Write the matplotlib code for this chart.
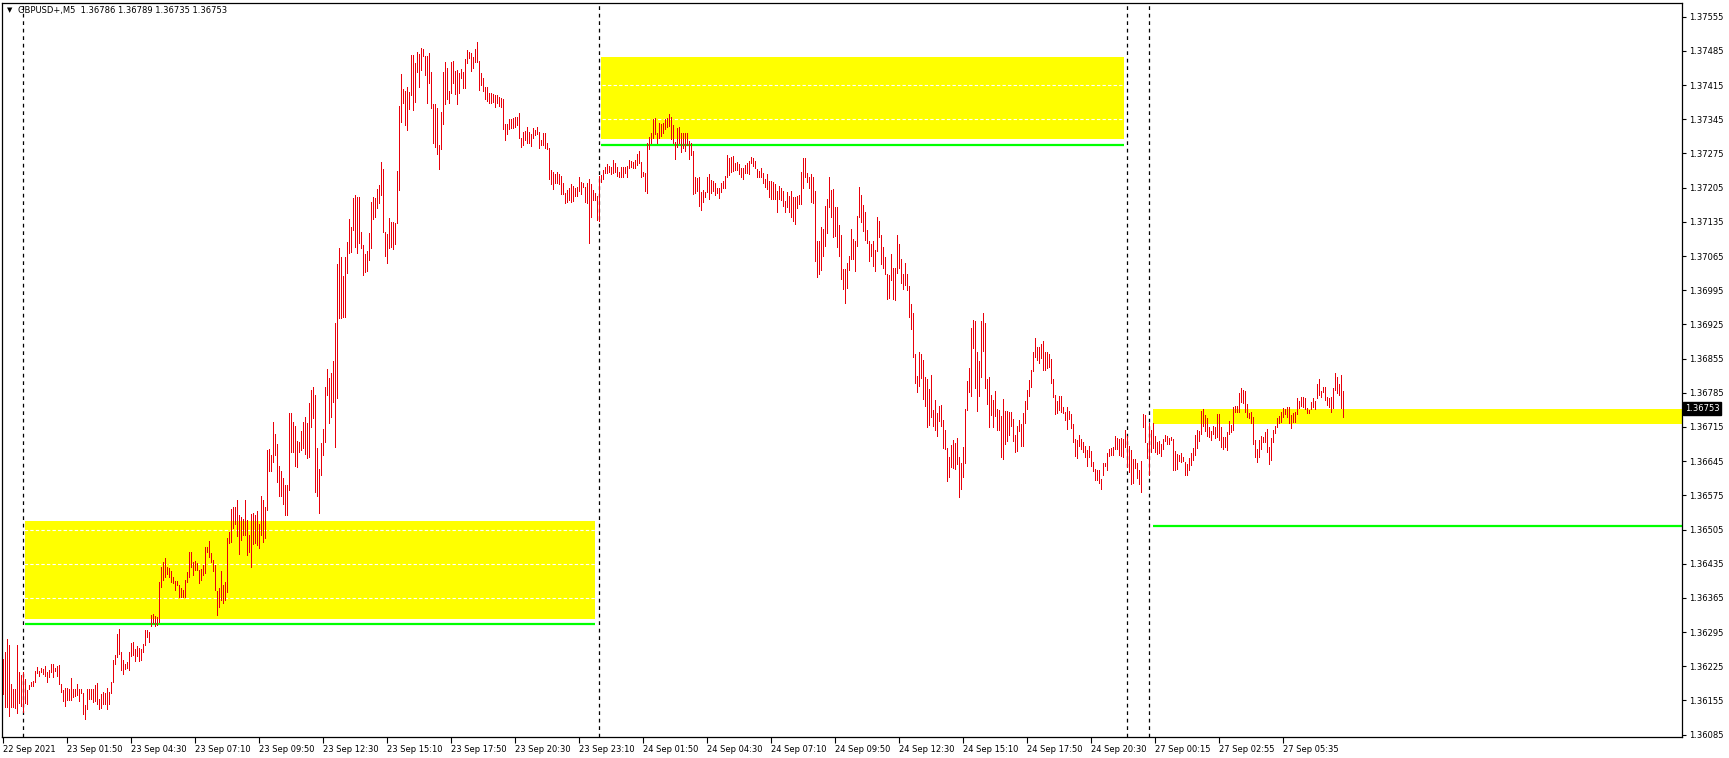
import matplotlib
matplotlib.use("Agg")
import matplotlib.pyplot as plt
import matplotlib.transforms as mtransforms
from matplotlib.patches import Rectangle

# ---------------- data (GBPUSD+, M5 bars, bar index 0 = 22 Sep 23:10) ----------------
HIGH = [
1.36240,1.36254,1.36281,1.36268,1.36189,1.36178,1.36178,1.36268,1.36213,1.36207,
1.36213,1.36199,1.36176,1.36186,1.36193,1.36195,1.36215,1.36223,1.36215,1.36221,
1.36219,1.36225,1.36213,1.36217,1.36229,1.36229,1.36221,1.36225,1.36227,1.36189,
1.36176,1.36180,1.36180,1.36178,1.36201,1.36178,1.36178,1.36189,1.36178,1.36178,
1.36170,1.36146,1.36178,1.36178,1.36178,1.36178,1.36186,1.36191,1.36158,1.36168,
1.36172,1.36170,1.36180,1.36172,1.36193,1.36238,1.36248,1.36291,1.36301,1.36254,
1.36238,1.36229,1.36234,1.36254,1.36272,1.36275,1.36260,1.36266,1.36262,1.36260,
1.36270,1.36299,1.36299,1.36295,1.36330,1.36332,1.36328,1.36326,1.36397,1.36428,
1.36438,1.36446,1.36428,1.36426,1.36420,1.36408,1.36399,1.36399,1.36391,1.36385,
1.36381,1.36401,1.36418,1.36459,1.36459,1.36438,1.36440,1.36436,1.36422,1.36424,
1.36432,1.36469,1.36469,1.36481,1.36457,1.36442,1.36432,1.36379,1.36385,1.36420,
1.36391,1.36397,1.36487,1.36500,1.36547,1.36551,1.36551,1.36565,1.36535,1.36530,
1.36526,1.36565,1.36524,1.36494,1.36537,1.36539,1.36535,1.36543,1.36516,1.36573,
1.36565,1.36551,1.36668,1.36670,1.36657,1.36725,1.36700,1.36680,1.36635,1.36625,
1.36610,1.36596,1.36596,1.36743,1.36743,1.36725,1.36717,1.36686,1.36684,1.36707,
1.36725,1.36735,1.36723,1.36764,1.36790,1.36797,1.36780,1.36672,1.36629,1.36682,
1.36711,1.36797,1.36833,1.36815,1.36825,1.36850,1.36928,1.37048,1.37081,1.37063,
1.37024,1.37063,1.37094,1.37141,1.37124,1.37184,1.37190,1.37186,1.37186,1.37114,
1.37087,1.37069,1.37075,1.37112,1.37175,1.37186,1.37184,1.37202,1.37210,1.37257,
1.37243,1.37114,1.37110,1.37143,1.37134,1.37134,1.37132,1.37239,1.37372,1.37437,
1.37407,1.37403,1.37411,1.37401,1.37476,1.37476,1.37460,1.37483,1.37478,1.37491,
1.37489,1.37474,1.37474,1.37480,1.37442,1.37376,1.37376,1.37368,1.37292,1.37360,
1.37442,1.37462,1.37450,1.37403,1.37462,1.37464,1.37444,1.37446,1.37440,1.37448,
1.37442,1.37468,1.37487,1.37483,1.37480,1.37472,1.37489,1.37503,1.37464,1.37440,
1.37429,1.37411,1.37411,1.37399,1.37399,1.37397,1.37394,1.37394,1.37390,1.37388,
1.37386,1.37335,1.37335,1.37345,1.37345,1.37347,1.37349,1.37349,1.37358,1.37306,
1.37319,1.37321,1.37329,1.37319,1.37315,1.37327,1.37323,1.37329,1.37319,1.37302,
1.37317,1.37317,1.37296,1.37286,1.37241,1.37237,1.37233,1.37237,1.37233,1.37229,
1.37214,1.37194,1.37200,1.37204,1.37212,1.37208,1.37204,1.37206,1.37227,1.37216,
1.37214,1.37206,1.37214,1.37222,1.37212,1.37200,1.37194,1.37188,1.37229,1.37231,
1.37241,1.37247,1.37253,1.37249,1.37247,1.37261,1.37255,1.37247,1.37237,1.37247,
1.37247,1.37247,1.37249,1.37261,1.37259,1.37257,1.37261,1.37274,1.37280,1.37257,
1.37237,1.37235,1.37296,1.37308,1.37317,1.37345,1.37347,1.37317,1.37337,1.37335,
1.37337,1.37345,1.37347,1.37356,1.37349,1.37333,1.37298,1.37327,1.37329,1.37317,
1.37317,1.37317,1.37317,1.37300,1.37296,1.37280,1.37227,1.37225,1.37227,1.37196,
1.37200,1.37196,1.37227,1.37233,1.37220,1.37218,1.37214,1.37204,1.37204,1.37214,
1.37218,1.37229,1.37272,1.37265,1.37268,1.37270,1.37255,1.37257,1.37253,1.37245,
1.37245,1.37251,1.37255,1.37259,1.37268,1.37265,1.37259,1.37243,1.37239,1.37245,
1.37235,1.37222,1.37233,1.37218,1.37218,1.37216,1.37212,1.37198,1.37208,1.37204,
1.37198,1.37177,1.37196,1.37188,1.37198,1.37186,1.37186,1.37188,1.37190,1.37237,
1.37265,1.37265,1.37235,1.37227,1.37233,1.37227,1.37198,1.37096,1.37096,1.37124,
1.37120,1.37167,1.37182,1.37227,1.37200,1.37202,1.37165,1.37165,1.37128,1.37108,
1.37038,1.37038,1.37051,1.37065,1.37120,1.37100,1.37096,1.37147,1.37206,1.37190,
1.37169,1.37155,1.37118,1.37096,1.37089,1.37096,1.37077,1.37145,1.37137,1.37108,
1.37083,1.37063,1.37028,1.37026,1.37069,1.37040,1.37040,1.37108,1.37089,1.37059,
1.37028,1.37051,1.37028,1.37003,1.36967,1.36948,1.36864,1.36819,1.36868,1.36864,
1.36852,1.36817,1.36813,1.36793,1.36821,1.36750,1.36770,1.36743,1.36758,1.36760,
1.36729,1.36709,1.36672,1.36653,1.36678,1.36688,1.36682,1.36692,1.36653,1.36641,
1.36674,1.36752,1.36809,1.36836,1.36917,1.36934,1.36932,1.36868,1.36850,1.36932,
1.36948,1.36928,1.36813,1.36817,1.36780,1.36770,1.36788,1.36752,1.36750,1.36737,
1.36772,1.36747,1.36747,1.36745,1.36745,1.36731,1.36698,1.36717,1.36729,1.36721,
1.36743,1.36768,1.36790,1.36811,1.36831,1.36868,1.36897,1.36879,1.36879,1.36885,
1.36891,1.36868,1.36868,1.36864,1.36854,1.36813,1.36780,1.36768,1.36778,1.36778,
1.36756,1.36745,1.36756,1.36747,1.36741,1.36721,1.36690,1.36688,1.36698,1.36690,
1.36684,1.36676,1.36668,1.36676,1.36666,1.36643,1.36629,1.36627,1.36627,1.36608,
1.36641,1.36641,1.36661,1.36670,1.36672,1.36674,1.36696,1.36692,1.36690,1.36692,
1.36690,1.36709,1.36696,1.36676,1.36668,1.36649,1.36649,1.36641,1.36627,1.36645,
1.36741,1.36739,1.36682,1.36723,1.36709,1.36723,1.36696,1.36684,1.36686,1.36680,
1.36690,1.36698,1.36696,1.36692,1.36694,1.36690,1.36666,1.36659,1.36657,1.36661,
1.36653,1.36643,1.36639,1.36651,1.36661,1.36672,1.36698,1.36709,1.36707,1.36747,
1.36752,1.36739,1.36733,1.36715,1.36707,1.36717,1.36715,1.36741,1.36741,1.36715,
1.36694,1.36694,1.36704,1.36727,1.36719,1.36756,1.36758,1.36758,1.36784,1.36795,
1.36790,1.36788,1.36762,1.36743,1.36745,1.36735,1.36688,1.36670,1.36688,1.36696,
1.36694,1.36704,1.36711,1.36674,1.36692,1.36709,1.36717,1.36733,1.36737,1.36745,
1.36754,1.36752,1.36756,1.36756,1.36739,1.36743,1.36745,1.36774,1.36768,1.36776,
1.36776,1.36774,1.36754,1.36750,1.36766,1.36774,1.36768,1.36803,1.36813,1.36788,
1.36797,1.36797,1.36776,1.36774,1.36776,1.36795,1.36825,1.36817,1.36803,1.36821,
1.36789,
]

LOW = [
1.36168,1.36141,1.36141,1.36123,1.36141,1.36141,1.36139,1.36129,1.36150,1.36143,
1.36131,1.36150,1.36148,1.36178,1.36184,1.36184,1.36193,1.36211,1.36205,1.36213,
1.36209,1.36205,1.36193,1.36203,1.36213,1.36203,1.36215,1.36205,1.36189,1.36172,
1.36154,1.36143,1.36156,1.36156,1.36156,1.36162,1.36164,1.36166,1.36154,1.36170,
1.36127,1.36117,1.36137,1.36158,1.36158,1.36152,1.36154,1.36148,1.36137,1.36139,
1.36148,1.36148,1.36137,1.36148,1.36170,1.36193,1.36229,1.36244,1.36250,1.36217,
1.36209,1.36219,1.36221,1.36217,1.36246,1.36248,1.36236,1.36246,1.36236,1.36238,
1.36254,1.36268,1.36285,1.36275,1.36307,1.36313,1.36307,1.36309,1.36315,1.36387,
1.36401,1.36408,1.36414,1.36408,1.36397,1.36395,1.36381,1.36391,1.36367,1.36367,
1.36367,1.36367,1.36397,1.36408,1.36428,1.36412,1.36422,1.36422,1.36395,1.36401,
1.36412,1.36416,1.36459,1.36449,1.36438,1.36420,1.36381,1.36330,1.36346,1.36360,
1.36354,1.36360,1.36377,1.36477,1.36479,1.36508,1.36516,1.36492,1.36455,1.36483,
1.36494,1.36494,1.36453,1.36459,1.36428,1.36475,1.36477,1.36473,1.36467,1.36494,
1.36479,1.36487,1.36545,1.36625,1.36625,1.36643,1.36657,1.36602,1.36573,1.36573,
1.36557,1.36535,1.36535,1.36586,1.36664,1.36664,1.36635,1.36633,1.36664,1.36668,
1.36672,1.36659,1.36651,1.36653,1.36715,1.36733,1.36582,1.36573,1.36539,1.36616,
1.36657,1.36684,1.36780,1.36723,1.36735,1.36766,1.36674,1.36774,1.36938,1.36938,
1.36940,1.36940,1.37030,1.37071,1.37073,1.37118,1.37083,1.37071,1.37091,1.37081,
1.37026,1.37032,1.37034,1.37057,1.37081,1.37141,1.37145,1.37163,1.37173,1.37190,
1.37114,1.37065,1.37051,1.37081,1.37083,1.37079,1.37089,1.37132,1.37200,1.37339,
1.37378,1.37333,1.37323,1.37366,1.37394,1.37364,1.37380,1.37442,1.37411,1.37446,
1.37474,1.37435,1.37378,1.37419,1.37368,1.37296,1.37288,1.37274,1.37243,1.37284,
1.37335,1.37376,1.37386,1.37378,1.37399,1.37419,1.37397,1.37376,1.37399,1.37429,
1.37409,1.37409,1.37460,1.37470,1.37444,1.37450,1.37462,1.37462,1.37405,1.37415,
1.37403,1.37386,1.37382,1.37378,1.37378,1.37380,1.37370,1.37378,1.37372,1.37370,
1.37325,1.37302,1.37315,1.37325,1.37327,1.37327,1.37329,1.37333,1.37306,1.37288,
1.37292,1.37302,1.37296,1.37296,1.37290,1.37306,1.37313,1.37315,1.37286,1.37292,
1.37292,1.37286,1.37284,1.37222,1.37212,1.37202,1.37214,1.37214,1.37212,1.37192,
1.37192,1.37173,1.37175,1.37179,1.37175,1.37177,1.37188,1.37188,1.37198,1.37192,
1.37206,1.37175,1.37173,1.37091,1.37145,1.37179,1.37179,1.37139,1.37137,1.37216,
1.37222,1.37235,1.37235,1.37237,1.37233,1.37235,1.37237,1.37229,1.37227,1.37227,
1.37227,1.37235,1.37227,1.37245,1.37247,1.37245,1.37245,1.37251,1.37255,1.37227,
1.37229,1.37198,1.37194,1.37284,1.37296,1.37306,1.37315,1.37296,1.37306,1.37311,
1.37317,1.37325,1.37329,1.37331,1.37304,1.37296,1.37263,1.37288,1.37296,1.37278,
1.37286,1.37280,1.37292,1.37263,1.37272,1.37192,1.37194,1.37198,1.37167,1.37159,
1.37175,1.37186,1.37196,1.37182,1.37194,1.37198,1.37190,1.37194,1.37184,1.37196,
1.37204,1.37204,1.37227,1.37231,1.37237,1.37239,1.37241,1.37241,1.37233,1.37227,
1.37222,1.37235,1.37235,1.37233,1.37255,1.37249,1.37245,1.37227,1.37227,1.37227,
1.37214,1.37206,1.37202,1.37186,1.37182,1.37182,1.37182,1.37155,1.37182,1.37179,
1.37167,1.37155,1.37165,1.37155,1.37145,1.37137,1.37130,1.37163,1.37171,1.37171,
1.37204,1.37227,1.37216,1.37204,1.37175,1.37173,1.37055,1.37022,1.37028,1.37036,
1.37065,1.37085,1.37112,1.37165,1.37145,1.37104,1.37106,1.37083,1.37065,1.37018,
1.36997,1.36969,1.36999,1.37036,1.37059,1.37059,1.37034,1.37085,1.37145,1.37134,
1.37116,1.37098,1.37091,1.37055,1.37065,1.37044,1.37034,1.37075,1.37104,1.37048,
1.37040,1.37028,1.36977,1.36979,1.37016,1.36977,1.36975,1.37030,1.37040,1.37010,
1.36997,1.37005,1.36995,1.36940,1.36915,1.36858,1.36805,1.36786,1.36799,1.36815,
1.36772,1.36758,1.36715,1.36719,1.36735,1.36717,1.36709,1.36696,1.36727,1.36717,
1.36672,1.36670,1.36604,1.36612,1.36633,1.36631,1.36629,1.36639,1.36571,1.36588,
1.36612,1.36641,1.36750,1.36786,1.36778,1.36876,1.36795,1.36747,1.36778,1.36817,
1.36870,1.36795,1.36762,1.36715,1.36739,1.36715,1.36737,1.36709,1.36709,1.36653,
1.36649,1.36680,1.36686,1.36698,1.36717,1.36686,1.36664,1.36666,1.36707,1.36676,
1.36676,1.36723,1.36752,1.36778,1.36797,1.36829,1.36858,1.36852,1.36846,1.36856,
1.36831,1.36831,1.36836,1.36838,1.36805,1.36776,1.36741,1.36743,1.36750,1.36745,
1.36743,1.36729,1.36711,1.36731,1.36713,1.36684,1.36655,1.36651,1.36676,1.36670,
1.36664,1.36653,1.36635,1.36653,1.36635,1.36625,1.36606,1.36606,1.36600,1.36588,
1.36616,1.36635,1.36627,1.36655,1.36657,1.36657,1.36670,1.36670,1.36657,1.36655,
1.36653,1.36674,1.36633,1.36623,1.36598,1.36600,1.36631,1.36610,1.36598,1.36582,
1.36715,1.36684,1.36651,1.36616,1.36664,1.36672,1.36664,1.36659,1.36661,1.36655,
1.36670,1.36686,1.36680,1.36680,1.36688,1.36627,1.36627,1.36629,1.36645,1.36643,
1.36645,1.36616,1.36616,1.36627,1.36637,1.36647,1.36657,1.36672,1.36686,1.36700,
1.36717,1.36707,1.36696,1.36694,1.36688,1.36700,1.36692,1.36694,1.36688,1.36674,
1.36670,1.36674,1.36668,1.36700,1.36704,1.36709,1.36745,1.36745,1.36745,1.36766,
1.36764,1.36745,1.36735,1.36733,1.36723,1.36680,1.36653,1.36643,1.36653,1.36670,
1.36684,1.36684,1.36664,1.36639,1.36647,1.36684,1.36702,1.36715,1.36723,1.36725,
1.36735,1.36741,1.36735,1.36723,1.36713,1.36725,1.36725,1.36741,1.36754,1.36758,
1.36756,1.36752,1.36743,1.36743,1.36752,1.36756,1.36752,1.36774,1.36780,1.36776,
1.36786,1.36770,1.36760,1.36756,1.36745,1.36754,1.36790,1.36784,1.36780,1.36754,
1.36735,
]

TICK_IDX = [0, 32, 64, 96, 128, 160, 192, 224, 256, 288, 320, 352, 384, 416,
            448, 480, 512, 544, 576, 608, 640]
TICK_LABELS = ["22 Sep 2021", "23 Sep 01:50", "23 Sep 04:30", "23 Sep 07:10",
               "23 Sep 09:50", "23 Sep 12:30", "23 Sep 15:10", "23 Sep 17:50",
               "23 Sep 20:30", "23 Sep 23:10", "24 Sep 01:50", "24 Sep 04:30",
               "24 Sep 07:10", "24 Sep 09:50", "24 Sep 12:30", "24 Sep 15:10",
               "24 Sep 17:50", "24 Sep 20:30", "27 Sep 00:15", "27 Sep 02:55",
               "27 Sep 05:35"]
PRICE_TICKS = [1.36085, 1.36155, 1.36225, 1.36295, 1.36365, 1.36435, 1.36505,
               1.36575, 1.36645, 1.36715, 1.36785, 1.36855, 1.36925, 1.36995,
               1.37065, 1.37135, 1.37205, 1.37275, 1.37345, 1.37415, 1.37485,
               1.37555]
SEPARATORS = [10, 298, 562, 573]          # period separators (bar index)

# zones: (start bar, end bar, top price, bottom price)
ZONE_START = [11, 299, 575]
ZONE_END = [296, 560.5, 840]
ZONE_TOP = [1.36522, 1.37473, 1.36752]
ZONE_BOT = [1.36322, 1.37304, 1.36722]
# green levels: (start bar, end bar, price)
LEVEL_START = [11, 299, 575]
LEVEL_END = [296, 560.5, 840]
LEVEL_PRICE = [1.36312, 1.37293, 1.36513]

HEADER = "GBPUSD+,M5  1.36786 1.36789 1.36735 1.36753"
LAST_PRICE = 1.36753

# ---------------- figure ----------------
W, H = 1729, 758
fig = plt.figure(figsize=(W / 100, H / 100), dpi=100)
fig.patch.set_facecolor("white")
ax = fig.add_axes([2 / W, (H - 737) / H, 1680 / W, 734 / H])
ax.set_facecolor("white")

idx = list(range(len(HIGH)))

for x0, x1, top, bot in zip(ZONE_START, ZONE_END, ZONE_TOP, ZONE_BOT):
    ax.add_patch(Rectangle((x0, bot), x1 - x0, top - bot, facecolor="#ffff00",
                           edgecolor="none", zorder=1))

for yt in PRICE_TICKS:
    ax.axhline(yt, color="white", lw=0.8, ls=(0, (3, 2)), zorder=1.5)

for x0, x1, p in zip(LEVEL_START, LEVEL_END, LEVEL_PRICE):
    ax.hlines(p, x0, x1, color="#00ff00", lw=1.6, zorder=2)

for s in SEPARATORS:
    ax.axvline(s, color="black", lw=0.9, ls=(0, (3, 3)), zorder=2.5)

ax.vlines(idx, LOW, HIGH, color="#e8000b", lw=0.72, zorder=3, antialiased=False)

ax.set_xlim(-0.5, 839.5)
ax.set_ylim(1.360802, 1.375831)

ax.yaxis.tick_right()
ax.set_yticks(PRICE_TICKS)
ax.set_yticklabels([f"{v:.5f}" for v in PRICE_TICKS])
ax.set_xticks(TICK_IDX)
ax.set_xticklabels(TICK_LABELS, ha="left")
ax.tick_params(axis="y", direction="out", length=3, width=0.8, pad=2,
               labelsize=6, colors="black")
ax.tick_params(axis="x", direction="out", length=4, width=0.8, pad=2,
               labelsize=6, colors="black")
for sp in ax.spines.values():
    sp.set_color("black")
    sp.set_linewidth(0.9)

trans = mtransforms.blended_transform_factory(ax.transAxes, ax.transData)
ax.text(1.0018, LAST_PRICE, f"{LAST_PRICE:.5f}", transform=trans, color="white",
        fontsize=6, ha="left", va="center", zorder=5,
        bbox=dict(boxstyle="square,pad=0.2", fc="black", ec="black"))

fig.text(9.5 / W, 1 - 10.5 / H, "\u25bc", fontsize=5, ha="center", va="center")
fig.text(18 / W, 1 - 10.5 / H, HEADER, fontsize=6, ha="left", va="center")

fig.savefig("out.png", dpi=100, facecolor="white")
